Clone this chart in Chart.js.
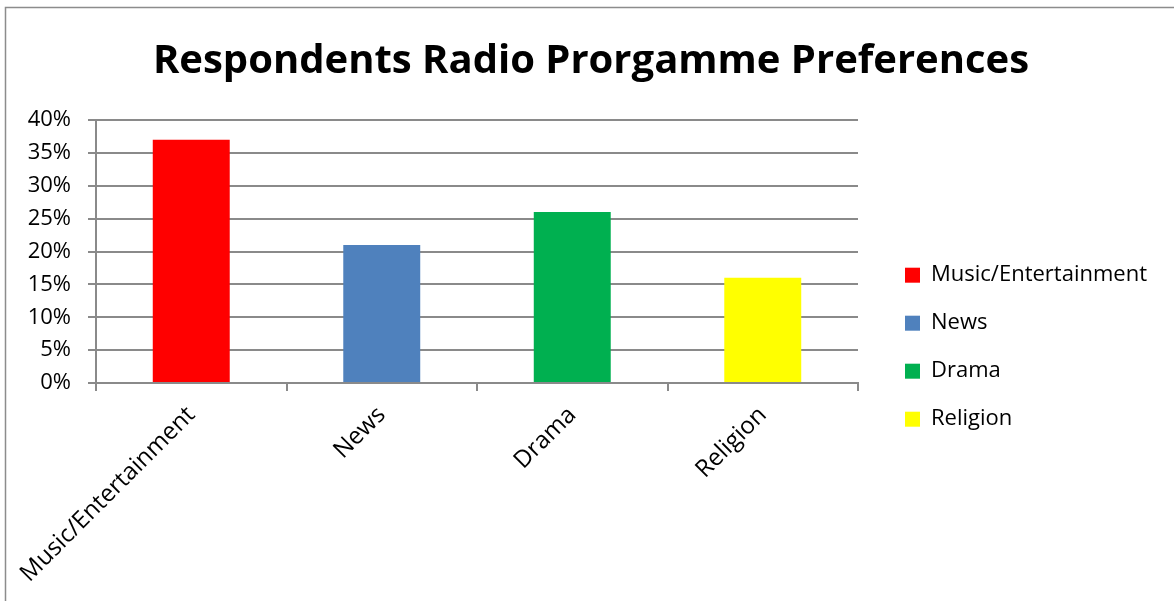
<!DOCTYPE html>
<html>
<head>
<meta charset="utf-8">
<script src="https://cdn.jsdelivr.net/npm/chart.js@4.4.1/dist/chart.umd.min.js"></script>
<style>
  html, body { margin: 0; padding: 0; background: #ffffff; }
  #wrap { width: 1174px; height: 601px; }
</style>
</head>
<body>
<div id="wrap"><canvas id="chart" width="1174" height="601"></canvas></div>
<script>
// Programme categories and share of respondents (%)
const categories = ['Music/Entertainment', 'News', 'Drama', 'Religion'];
const shares = [37, 21, 26, 16];
const barColors = ['#FF0000', '#4F81BD', '#00B050', '#FFFF00'];
const yTicks = [0, 5, 10, 15, 20, 25, 30, 35, 40];

const titleText = 'Respondents Radio Prorgamme Preferences';
const gridColor = '#8a8a8a';
const baseFont = "'Open Sans', 'Noto Sans', sans-serif";

// Outer frame around the chart
const framePlugin = {
  id: 'frame',
  beforeDraw(chart) {
    const ctx = chart.ctx;
    ctx.save();
    ctx.fillStyle = '#ffffff';
    ctx.fillRect(0, 0, chart.width, chart.height);
    ctx.strokeStyle = '#8c8c8c';
    ctx.lineWidth = 1.5;
    ctx.beginPath();
    ctx.moveTo(5.5, chart.height);
    ctx.lineTo(5.5, 7.5);
    ctx.lineTo(chart.width, 7.5);
    ctx.stroke();
    ctx.restore();
  }
};

new Chart(document.getElementById('chart'), {
  type: 'bar',
  data: {
    labels: categories,
    datasets: [{
      label: 'Share',
      data: shares,
      backgroundColor: barColors,
      borderWidth: 0,
      categoryPercentage: 1.0,
      barPercentage: 0.404
    }]
  },
  options: {
    responsive: false,
    animation: false,
    layout: { padding: { left: 25, right: 17, top: 10, bottom: 0 } },
    plugins: {
      tooltip: { enabled: false },
      title: {
        display: true,
        text: titleText,
        color: '#000000',
        font: { family: baseFont, size: 40, weight: 'bold' },
        padding: { top: 28, bottom: 34 }
      },
      legend: {
        display: true,
        position: 'right',
        align: 'center',
        // empty legend heading only shifts the entries down
        title: {
          display: true,
          text: '',
          font: { family: baseFont, size: 12 },
          padding: { top: 0, bottom: 69 }
        },
        labels: {
          color: '#000000',
          font: { family: baseFont, size: 22 },
          boxWidth: 15,
          boxHeight: 15,
          padding: 26,
          generateLabels(chart) {
            const ds = chart.data.datasets[0];
            return chart.data.labels.map((text, i) => ({
              text,
              fillStyle: ds.backgroundColor[i],
              strokeStyle: ds.backgroundColor[i],
              fontColor: '#000000',
              lineWidth: 0,
              hidden: false,
              index: i,
              datasetIndex: 0
            }));
          }
        }
      }
    },
    scales: {
      x: {
        grid: {
          display: true,
          drawOnChartArea: false,
          drawTicks: true,
          tickLength: 8,
          color: gridColor,
          lineWidth: 2,
          offset: true
        },
        border: { display: true, color: gridColor, width: 2 },
        ticks: {
          color: '#000000',
          font: { family: baseFont, size: 24 },
          minRotation: 45,
          maxRotation: 45,
          padding: 10
        },
        afterFit(scale) { scale.height = 218; }
      },
      y: {
        min: 0,
        max: 40,
        afterBuildTicks(scale) { scale.ticks = yTicks.map(v => ({ value: v })); },
        grid: {
          color: gridColor,
          lineWidth: 2,
          drawTicks: true,
          tickLength: 8
        },
        border: { display: true, color: gridColor, width: 2 },
        ticks: {
          color: '#000000',
          font: { family: baseFont, size: 22 },
          padding: 17,
          callback: (v) => v + '%'
        },
        afterFit(scale) { scale.width = 71; }
      },
      // spacing between the plot and the legend
      gap: {
        type: 'linear',
        position: 'right',
        display: false,
        afterFit(scale) { scale.width = 21; }
      }
    }
  },
  plugins: [framePlugin]
});
</script>
</body>
</html>
